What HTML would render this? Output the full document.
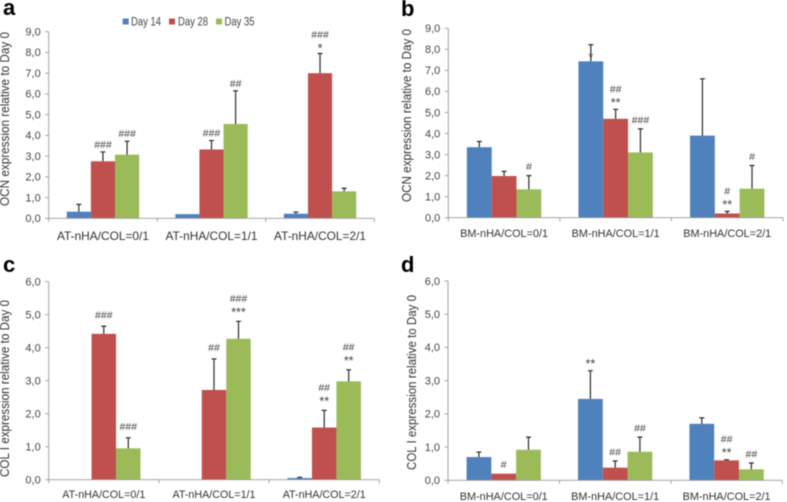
<!DOCTYPE html>
<html>
<head>
<meta charset="utf-8">
<title>Gene expression bar charts</title>
<style>
html,body{margin:0;padding:0;background:#fff;width:787px;height:502px;overflow:hidden}
svg{display:block;font-family:"Liberation Sans",sans-serif;filter:blur(.4px)}
</style>
</head>
<body>
<svg id="figure" xmlns="http://www.w3.org/2000/svg" width="787" height="502" viewBox="0 0 787 502">
  <rect x="0" y="0" width="787" height="502" fill="#fff"/>
  <text x="3" y="15" font-size="22" font-weight="bold" fill="#000">a</text>
  <text x="401" y="16" font-size="22" font-weight="bold" fill="#000">b</text>
  <text x="3" y="272" font-size="22" font-weight="bold" fill="#000">c</text>
  <text x="401" y="272" font-size="22" font-weight="bold" fill="#000">d</text>
  <g>
    <g>
      <rect x="122.7" y="18.5" width="6" height="6" fill="#4F81BD"/>
      <text x="131" y="25.5" font-size="11.5" fill="#444" textLength="30" lengthAdjust="spacingAndGlyphs">Day 14</text>
    </g>
    <g>
      <rect x="169" y="18.5" width="6" height="6" fill="#C0504D"/>
      <text x="178" y="25.5" font-size="11.5" fill="#444" textLength="30" lengthAdjust="spacingAndGlyphs">Day 28</text>
    </g>
    <g>
      <rect x="216" y="18.5" width="6" height="6" fill="#9BBB59"/>
      <text x="224.5" y="25.5" font-size="11.5" fill="#444" textLength="30" lengthAdjust="spacingAndGlyphs">Day 35</text>
    </g>
  </g>
</svg>
<script>
const seriesColors = ['#4F81BD', '#C0504D', '#9BBB59'];
const seriesNames = ['day-14', 'day-28', 'day-35'];

const ticksOcn = ['0,0', '1,0', '2,0', '3,0', '4,0', '5,0', '6,0', '7,0', '8,0', '9,0'];
const ticksCol = ['0,0', '1,0', '2,0', '3,0', '4,0', '5,0', '6,0'];

const categoriesAT = ['AT-nHA/COL=0/1', 'AT-nHA/COL=1/1', 'AT-nHA/COL=2/1'];
const categoriesBM = ['BM-nHA/COL=0/1', 'BM-nHA/COL=1/1', 'BM-nHA/COL=2/1'];

const aDay14 = [0.32, 0.20, 0.22];
const aDay28 = [2.75, 3.32, 7.00];
const aDay35 = [3.07, 4.55, 1.30];
const aErr14 = [0.35, 0, 0.08];
const aErr28 = [0.45, 0.43, 0.95];
const aErr35 = [0.65, 1.60, 0.15];
const aMarks = [
  [1, 0, '###'], [2, 0, '###'],
  [1, 1, '###'], [2, 1, '##'],
  [1, 2, '###|*']
];

const bDay14 = [3.35, 7.43, 3.90];
const bDay28 = [1.98, 4.70, 0.20];
const bDay35 = [1.35, 3.10, 1.38];
const bErr14 = [0.27, 0.79, 2.70];
const bErr28 = [0.22, 0.45, 0.10];
const bErr35 = [0.65, 1.12, 1.10];
const bMarks = [
  [2, 0, '#'],
  [0, 1, '*', 19.5], [1, 1, '##|**'], [2, 1, '###'],
  [1, 2, '#|**'], [2, 2, '#']
];

const cDay14 = [0, 0, 0.05];
const cDay28 = [4.42, 2.72, 1.58];
const cDay35 = [0.95, 4.27, 2.98];
const cErr14 = [0, 0, 0.02];
const cErr28 = [0.23, 0.94, 0.52];
const cErr35 = [0.32, 0.53, 0.35];
const cMarks = [
  [1, 0, '###'], [2, 0, '###'],
  [1, 1, '##'], [2, 1, '###|***'],
  [1, 2, '##|**'], [2, 2, '##|**']
];

const dDay14 = [0.70, 2.45, 1.70];
const dDay28 = [0.20, 0.38, 0.60];
const dDay35 = [0.92, 0.86, 0.33];
const dErr14 = [0.15, 0.85, 0.18];
const dErr28 = [0, 0.20, 0.02];
const dErr35 = [0.38, 0.44, 0.19];
const dMarks = [
  [1, 0, '#'],
  [0, 1, '**'], [1, 1, '##'], [2, 1, '##'],
  [1, 2, '##|**'], [2, 2, '##']
];

const panels = [
  { id: 'a', left: 48.7, right: 374.3, base: 218.3, top: 31.7, max: 9, ticks: ticksOcn, cats: categoriesAT,
    vals: [aDay14, aDay28, aDay35], errs: [aErr14, aErr28, aErr35], marks: aMarks, gap: 8,
    title: 'OCN expression relative to Day 0', titleX: 5, titleY: 119, titleLen: 174,
    catY: 240, catLen: 92, catSize: 12, tickSize: 11 },
  { id: 'b', left: 448.3, right: 783, base: 217.7, top: 28.3, max: 9, ticks: ticksOcn, cats: categoriesBM,
    vals: [bDay14, bDay28, bDay35], errs: [bErr14, bErr28, bErr35], marks: bMarks, gap: 9.5,
    title: 'OCN expression relative to Day 0', titleX: 407, titleY: 115.5, titleLen: 173,
    catY: 237, catLen: 88, catSize: 11, tickSize: 11 },
  { id: 'c', left: 48.7, right: 379.3, base: 479.7, top: 281.7, max: 6, ticks: ticksCol, cats: categoriesAT,
    vals: [cDay14, cDay28, cDay35], errs: [cErr14, cErr28, cErr35], marks: cMarks, gap: 12,
    title: 'COL I expression relative to Day 0', titleX: 5, titleY: 388.5, titleLen: 177,
    catY: 498, catLen: 83, catSize: 11, tickSize: 11 },
  { id: 'd', left: 448, right: 782.3, base: 480.3, top: 281, max: 6, ticks: ticksCol, cats: categoriesBM,
    vals: [dDay14, dDay28, dDay35], errs: [dErr14, dErr28, dErr35], marks: dMarks, gap: 9.5,
    title: 'COL I expression relative to Day 0', titleX: 412, titleY: 382.5, titleLen: 175,
    catY: 500, catLen: 88, catSize: 11, tickSize: 11 }
];

const SVGNS = 'http://www.w3.org/2000/svg';
const figure = document.getElementById('figure');

function make(tag, parent, props, content) {
  const node = document.createElementNS(SVGNS, tag);
  Object.keys(props).forEach(function (k) { node.setAttribute(k, props[k]); });
  if (content !== undefined) node.textContent = content;
  parent.appendChild(node);
  return node;
}

panels.forEach(function (p) {
  const yScale = function (v) { return p.base - (v / p.max) * (p.base - p.top); };
  const groupW = (p.right - p.left) / p.cats.length;
  const barW = groupW / 4.5;
  const barX = function (g, s) { return p.left + groupW * g + groupW / 2 + (s - 1.5) * barW; };

  const chart = make('g', figure, {});
  
  

  // bars
  p.vals.forEach(function (vals, s) {
    vals.forEach(function (v, g) {
      const bar = make('rect', chart, {
        x: barX(g, s), y: yScale(v), width: barW, height: p.base - yScale(v), fill: seriesColors[s]
      });
      
      
    });
  });

  // error bars
  p.errs.forEach(function (errs, s) {
    errs.forEach(function (e, g) {
      if (!e) return;
      const cx = barX(g, s) + barW / 2;
      const yTop = yScale(p.vals[s][g] + e);
      const yBar = yScale(p.vals[s][g]);
      const err = make('path', chart, {
        d: 'M' + cx + ' ' + yBar + 'V' + yTop + 'M' + (cx - 2.5) + ' ' + yTop + 'H' + (cx + 2.5),
        stroke: '#2b2b2b', 'stroke-width': 1.2, fill: 'none'
      });
      
      
    });
  });

  // significance marks
  p.marks.forEach(function (m) {
    const s = m[0], g = m[1], lines = m[2].split('|'), drop = m[3] || 0;
    const cx = barX(g, s) + barW / 2;
    const top = yScale(p.vals[s][g] + p.errs[s][g]);
    lines.forEach(function (line, i) {
      const center = top - p.gap + drop - (lines.length - 1 - i) * 11.5;
      const star = line.charAt(0) === '*';
      const t = make('text', chart, {
        x: cx, y: center + (star ? 7 : 4), 'text-anchor': 'middle', 'font-size': star ? 12.5 : 10.5, fill: '#444'
      }, line);
      
      
    });
  });

  // y axis
  const yAxis = make('g', chart, {});
  
  
  make('line', yAxis, { x1: p.left, x2: p.left, y1: p.top, y2: p.base, stroke: '#999', 'stroke-width': 0.9 });
  p.ticks.forEach(function (label) {
    const y = yScale(parseFloat(label.replace(',', '.')));
    make('line', yAxis, { x1: p.left - 3.5, x2: p.left, y1: y, y2: y, stroke: '#999', 'stroke-width': 0.9 });
    const t = make('text', yAxis, {
      x: p.left - 8, y: y + 3.8, 'text-anchor': 'end', 'font-size': p.tickSize, fill: '#444'
    }, label);
    
    
  });

  // x axis
  const xAxis = make('g', chart, {});
  
  
  make('line', xAxis, { x1: p.left, x2: p.right, y1: p.base, y2: p.base, stroke: '#999', 'stroke-width': 0.9 });
  for (let i = 0; i <= p.cats.length; i++) {
    const x = p.left + groupW * i;
    make('line', xAxis, { x1: x, x2: x, y1: p.base, y2: p.base + 3.5, stroke: '#999', 'stroke-width': 0.9 });
  }
  p.cats.forEach(function (label, i) {
    const t = make('text', xAxis, {
      x: p.left + groupW * i + groupW / 2, y: p.catY, 'text-anchor': 'middle', 'font-size': p.catSize, fill: '#333',
      textLength: p.catLen, lengthAdjust: 'spacingAndGlyphs'
    }, label);
    
    
  });

  // y title
  const title = make('text', chart, {
    x: 0, y: 0, transform: 'translate(' + (p.titleX + 4) + ' ' + p.titleY + ') rotate(-90)',
    'text-anchor': 'middle', 'font-size': 12.5, fill: '#333',
    textLength: p.titleLen, lengthAdjust: 'spacingAndGlyphs'
  }, p.title);
  
  
});
</script>
</body>
</html>
